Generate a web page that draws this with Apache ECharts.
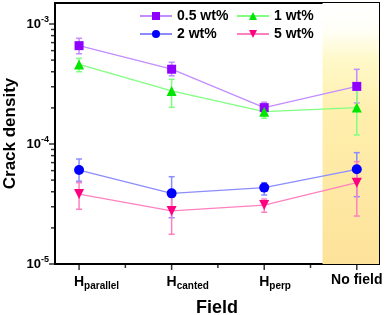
<!DOCTYPE html>
<html><head><meta charset="utf-8">
<script src="https://cdn.jsdelivr.net/npm/echarts@6/dist/echarts.min.js"></script>
<style>html,body{margin:0;padding:0;background:#fff}#c{width:386px;height:315px}</style>
</head><body><div id="c"></div>
<script>
// ---- data ----
var categories = ['{pad|parallel}H{sub|parallel}', '{pad|canted}H{sub|canted}', '{pad|perp}H{sub|perp}', 'No field'];
var seriesNames = ['0.5 wt%', '1 wt%', '2 wt%', '5 wt%'];
var v05 = [6.6e-4, 4.2e-4, 2.01e-4, 3.02e-4];
var v05Hi = [7.6e-4, 4.8e-4, 2.23e-4, 4.19e-4];
var v05Lo = [5.65e-4, 3.7e-4, 1.8e-4, 2.2e-4];
var v1 = [4.6e-4, 2.77e-4, 1.86e-4, 2.01e-4];
var v1Hi = [5.18e-4, 3.46e-4, 2.05e-4, 2.8e-4];
var v1Lo = [4.0e-4, 2.02e-4, 1.64e-4, 1.19e-4];
var v2 = [6.07e-5, 3.88e-5, 4.33e-5, 6.15e-5];
var v2Hi = [7.5e-5, 5.34e-5, 4.76e-5, 8.47e-5];
var v2Lo = [4.9e-5, 2.43e-5, 3.76e-5, 3.64e-5];
var v5 = [3.83e-5, 2.77e-5, 3.1e-5, 4.76e-5];
var v5Hi = [4.76e-5, 3.6e-5, 3.48e-5, 7.13e-5];
var v5Lo = [2.86e-5, 1.77e-5, 2.7e-5, 2.51e-5];
var yMajorTicks = [1e-5, 1e-4, 1e-3];
var yMinorTicks = [2e-5,3e-5,4e-5,5e-5,6e-5,7e-5,8e-5,9e-5,2e-4,3e-4,4e-4,5e-4,6e-4,7e-4,8e-4,9e-4];
var xMajorTicks = [0, 1, 2, 3];
var xMinorTicks = [0.5, 1.5, 2.5];
var bandRange = [2.63, 3.24];

// ---- styles ----
var XMIN = -0.26, XMAX = 3.24;
var YMIN = 1e-5, YMAX = Math.pow(10, -2.825);
var FONT = '"Liberation Sans", Arial, sans-serif';
var markerColors = ['#8f00ff', '#00e600', '#0000ff', '#ff0080'];
var lineColors = ['#c38cff', '#80ff80', '#8c8cff', '#ff80c0'];
var symbols = ['rect', 'triangle', 'circle', 'path://M0,0 L10,0 L5,9 Z'];
var symSizes = [9, 10, 10, 10];
var vals = [v05, v1, v2, v5];
var his = [v05Hi, v1Hi, v2Hi, v5Hi];
var los = [v05Lo, v1Lo, v2Lo, v5Lo];

function pairs(arr) { return arr.map(function (v, i) { return [i, v]; }); }

var series = [];
series.push({
  type: 'line', data: [], silent: true, z: 0,
  markArea: {
    silent: true,
    itemStyle: {
      color: new echarts.graphic.LinearGradient(0, 0, 0, 1, [
        {offset: 0, color: 'rgba(255,255,255,1)'},
        {offset: 0.1, color: 'rgba(255,255,248,1)'},
        {offset: 0.22, color: '#fff8c8'},
        {offset: 0.42, color: '#ffefad'},
        {offset: 1, color: '#fde29a'}
      ])
    },
    data: [[{xAxis: bandRange[0], yAxis: YMAX}, {xAxis: bandRange[1], yAxis: YMIN}]]
  }
});
for (var s = 0; s < 4; s++) {
  (function (s) {
    series.push({
      type: 'custom', z: 2, silent: true,
      data: vals[s].map(function (v, i) { return [i, los[s][i], his[s][i]]; }),
      encode: {x: 0, y: [1, 2]},
      renderItem: function (params, api) {
        var x = api.value(0);
        var lo = api.coord([x, api.value(1)]);
        var hi = api.coord([x, api.value(2)]);
        var w = 3;
        var st = {stroke: lineColors[s], lineWidth: 1.5};
        return {type: 'group', children: [
          {type: 'line', shape: {x1: lo[0], y1: lo[1], x2: hi[0], y2: hi[1]}, style: st},
          {type: 'line', shape: {x1: lo[0]-w, y1: lo[1], x2: lo[0]+w, y2: lo[1]}, style: st},
          {type: 'line', shape: {x1: hi[0]-w, y1: hi[1], x2: hi[0]+w, y2: hi[1]}, style: st}
        ]};
      }
    });
  })(s);
}
for (var s2 = 0; s2 < 4; s2++) {
  series.push({
    name: seriesNames[s2], type: 'line', z: 3,
    data: pairs(vals[s2]),
    symbol: symbols[s2], symbolSize: symSizes[s2],
    lineStyle: {color: lineColors[s2], width: 1.3},
    itemStyle: {color: markerColors[s2]},
    emphasis: {disabled: true}
  });
}
// axis ticks, placed through the axes' scales as tiny bar symbols
function tickSeries(data, size, offset) {
  return {
    type: 'scatter', z: 6, silent: true, clip: false,
    data: data, symbol: 'rect', symbolSize: size, symbolOffset: offset,
    itemStyle: {color: '#000'}, emphasis: {disabled: true}
  };
}
series.push(tickSeries(yMajorTicks.map(function (v) { return [XMIN, v]; }), [5, 1.5], [-3.5, 0]));
series.push(tickSeries(yMinorTicks.map(function (v) { return [XMIN, v]; }), [3, 1.5], [-2.5, 0]));
series.push(tickSeries(xMajorTicks.map(function (v) { return [v, YMIN]; }), [1.5, 5], [0, 3.5]));
series.push(tickSeries(xMinorTicks.map(function (v) { return [v, YMIN]; }), [1.5, 3], [0, 2.5]));

var chart = echarts.init(document.getElementById('c'), null, {renderer: 'canvas'});
var subStyle = {fontFamily: FONT, fontWeight: 'bold', fontSize: 10, verticalAlign: 'bottom', padding: [8, 0, 0, 0], color: '#000'};
var padStyle = Object.assign({}, subStyle, {color: 'rgba(0,0,0,0)'});
chart.setOption({
  animation: false,
  backgroundColor: '#fff',
  grid: {left: 55, top: 3, right: 7, bottom: 51, show: true, borderColor: '#000', borderWidth: 2,
         backgroundColor: 'transparent', containLabel: false, outerBoundsMode: 'none'},
  legend: [{
    left: 134, top: 4, orient: 'vertical', itemGap: 4, itemWidth: 32, itemHeight: 10,
    data: [seriesNames[0], seriesNames[2]],
    textStyle: {fontFamily: FONT, fontWeight: 'bold', fontSize: 14, color: '#000'}
  }, {
    left: 231, top: 4, orient: 'vertical', itemGap: 4, itemWidth: 32, itemHeight: 10,
    data: [seriesNames[1], seriesNames[3]],
    textStyle: {fontFamily: FONT, fontWeight: 'bold', fontSize: 14, color: '#000'}
  }],
  xAxis: {
    type: 'value', min: XMIN, max: XMAX, splitNumber: 4,
    splitLine: {show: false},
    axisLine: {show: true, onZero: false, lineStyle: {color: '#000', width: 2}},
    axisTick: {show: false},
    axisLabel: {
      margin: 9, color: '#000', fontFamily: FONT, fontWeight: 'bold', fontSize: 14,
      showMinLabel: false, showMaxLabel: false,
      formatter: function (v) {
        var i = Math.round(v);
        if (Math.abs(v - i) > 1e-6 || i < 0 || i > 3) return '';
        return categories[i];
      },
      rich: {sub: subStyle, pad: padStyle}
    },
    name: 'Field', nameLocation: 'middle', nameGap: 35, nameMoveOverlap: false,
    nameTextStyle: {fontFamily: FONT, fontWeight: 'bold', fontSize: 18, color: '#000'}
  },
  yAxis: {
    type: 'log', logBase: 10, min: YMIN, max: YMAX, interval: 1,
    splitLine: {show: false},
    axisLine: {show: true, onZero: false, lineStyle: {color: '#000', width: 2}},
    axisTick: {show: false},
    axisLabel: {
      margin: 6, color: '#000', fontFamily: FONT, fontWeight: 'bold', fontSize: 13,
      formatter: function (v) {
        var e = Math.log10(v);
        if (Math.abs(e - Math.round(e)) > 1e-6) return '';
        return '10{sup|' + Math.round(e) + '}';
      },
      rich: {sup: {fontFamily: FONT, fontWeight: 'bold', fontSize: 9, verticalAlign: 'top', padding: [0, 0, 8, 0], color: '#000'}}
    },
    name: 'Crack density', nameLocation: 'middle', nameGap: 36, nameMoveOverlap: false,
    nameTextStyle: {fontFamily: FONT, fontWeight: 'bold', fontSize: 17, color: '#000'}
  },
  series: series
});
</script></body></html>
